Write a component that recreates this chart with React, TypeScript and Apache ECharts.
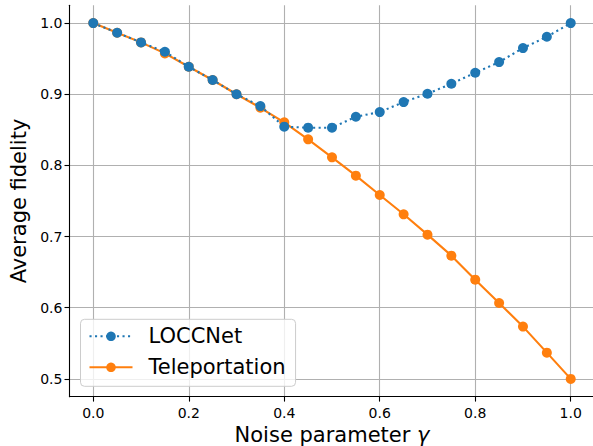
import React, { useEffect, useRef } from "react";
import * as echarts from "echarts";

const gammas = [0, 0.05, 0.1, 0.15, 0.2, 0.25, 0.3, 0.35, 0.4, 0.45, 0.5, 0.55, 0.6, 0.65, 0.7, 0.75, 0.8, 0.85, 0.9, 0.95, 1.0];
const loccnet = [1.0, 0.9864, 0.9729, 0.9597, 0.9386, 0.92, 0.9, 0.8834, 0.8544, 0.853, 0.853, 0.8684, 0.875, 0.889, 0.9007, 0.9148, 0.9302, 0.9452, 0.9649, 0.9808, 1.0];
const teleportation = [1.0, 0.9864, 0.9729, 0.9574, 0.9386, 0.92, 0.9, 0.881, 0.8605, 0.8366, 0.8114, 0.7856, 0.7584, 0.7313, 0.7027, 0.6732, 0.6395, 0.6067, 0.5735, 0.5369, 0.5];
const xTicks = [0, 0.2, 0.4, 0.6, 0.8, 1.0];
const yTicks = [0.5, 0.6, 0.7, 0.8, 0.9, 1.0];

const FONT = "DejaVu Sans";

export default function App() {
  const ref = useRef<HTMLDivElement>(null);
  useEffect(() => {
    const chart = echarts.init(ref.current!, null, { renderer: "svg" });
    const axisCommon = {
      axisLine: { show: true, onZero: false, lineStyle: { color: "#000", width: 1.1 } },
      axisTick: { show: true, length: 4.9, lineStyle: { color: "#000", width: 1.1 } },
      splitLine: { show: true, lineStyle: { color: "#b0b0b0", width: 1.1 } },
    };
    chart.setOption({
      animation: false,
      backgroundColor: "#fff",
      grid: { left: 69.4, top: 5.3, width: 525.2, height: 391.4, containLabel: false, outerBoundsMode: "none" },
      xAxis: {
        type: "value",
        min: -0.05,
        max: 1.05,
        name: "Noise parameter {g|γ}",
        nameLocation: "middle",
        nameGap: 36,
        nameTextStyle: {
          fontFamily: FONT,
          fontSize: 21,
          color: "#000",
          verticalAlign: "middle",
          rich: { g: { fontFamily: FONT, fontSize: 21, fontStyle: "italic", color: "#000" } },
        },
        ...axisCommon,
        axisTick: { ...axisCommon.axisTick, customValues: xTicks },
        axisLabel: {
          customValues: xTicks,
          margin: 9,
          fontFamily: FONT,
          fontSize: 14,
          color: "#000",
          formatter: (v: number) => v.toFixed(1),
        },
      },
      yAxis: {
        type: "value",
        min: 0.475,
        max: 1.025,
        name: "Average fidelity",
        nameLocation: "middle",
        nameGap: 48,
        nameTextStyle: { fontFamily: FONT, fontSize: 21, color: "#000", verticalAlign: "middle" },
        ...axisCommon,
        axisTick: { ...axisCommon.axisTick, customValues: yTicks },
        axisLabel: {
          customValues: yTicks,
          margin: 7,
          fontFamily: FONT,
          fontSize: 14,
          color: "#000",
          formatter: (v: number) => v.toFixed(1),
        },
      },
      legend: {
        orient: "vertical",
        left: 80.5,
        top: 319.3,
        data: ["LOCCNet", "Teleportation"],
        itemWidth: 43,
        itemHeight: 12,
        itemGap: 7,
        padding: [5, 10, 7, 8],
        backgroundColor: "rgba(255,255,255,0.8)",
        borderColor: "#cccccc",
        borderWidth: 1,
        borderRadius: 4,
        textStyle: { fontFamily: FONT, fontSize: 21, color: "#000", lineHeight: 24, padding: [0, 0, 0, 11] },
      },
      series: [
        {
          name: "Teleportation",
          type: "line",
          data: gammas.map((g, i) => [g, teleportation[i]]),
          symbol: "circle",
          symbolSize: 10,
          showAllSymbol: true,
          color: "#ff7f0e",
          lineStyle: { color: "#ff7f0e", width: 2.1 },
          itemStyle: { color: "#ff7f0e" },
          z: 2,
        },
        {
          name: "LOCCNet",
          type: "line",
          data: gammas.map((g, i) => [g, loccnet[i]]),
          symbol: "circle",
          symbolSize: 10,
          showAllSymbol: true,
          color: "#1f77b4",
          lineStyle: { color: "#1f77b4", width: 2.1, type: [2.1, 3.4] },
          itemStyle: { color: "#1f77b4" },
          z: 3,
        },
      ],
    });
    return () => chart.dispose();
  }, []);
  return <div ref={ref} style={{ width: 593, height: 446, position: "absolute", left: 0, top: 0 }} />;
}
